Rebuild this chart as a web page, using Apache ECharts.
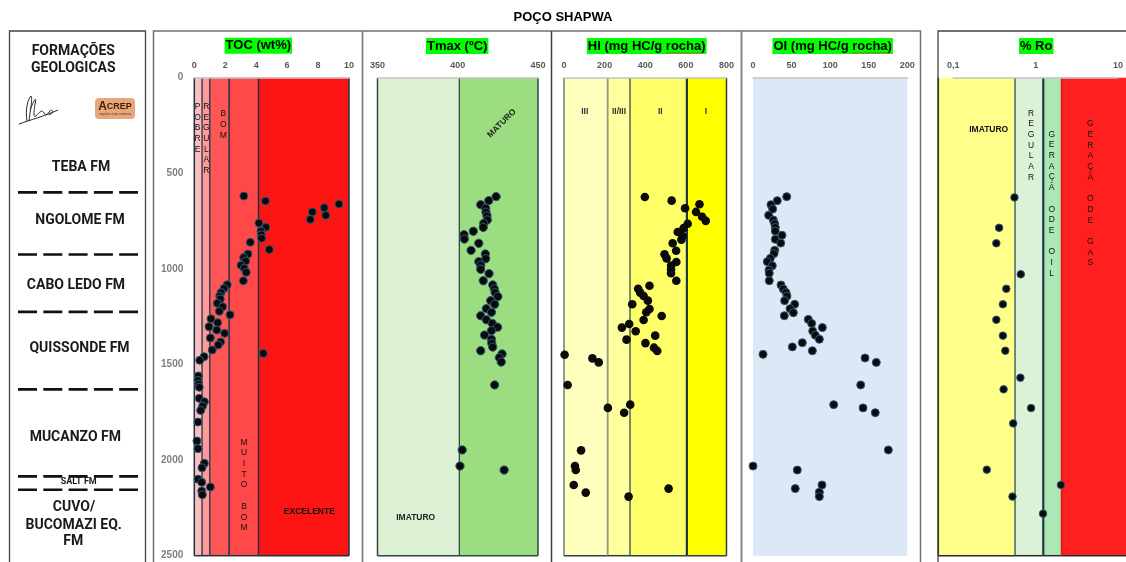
<!DOCTYPE html>
<html>
<head>
<meta charset="utf-8">
<title>POÇO SHAPWA</title>
<script src="https://cdn.jsdelivr.net/npm/echarts@6/dist/echarts.min.js"></script>
<style>
  html, body { margin: 0; padding: 0; background: #ffffff; }
  #chart { width: 1126px; height: 562px; }
</style>
</head>
<body>
<div id="chart"></div>
<script>
// ---------- data ----------
const depthTicks = [0, 500, 1000, 1500, 2000, 2500];

// TOC (wt%) vs depth (m)
const tocData = [
  [3.2,619],[4.6,645],[9.35,661],[8.4,680],[7.63,702],[8.5,720],[7.5,741],[4.18,760],[4.63,782],
  [4.31,803],[4.33,821],[4.35,840],[3.62,861],[4.85,899],[3.47,922],[3.19,941],[3.32,959],[3.02,981],
  [3.23,997],[3.36,1018],[3.17,1062],[2.13,1083],[1.92,1102],[1.73,1124],[1.64,1142],[1.68,1157],
  [1.49,1180],[1.83,1198],[1.62,1222],[2.31,1240],[1.08,1261],[1.51,1281],[0.95,1302],[1.45,1320],
  [1.96,1337],[1.04,1361],[1.7,1382],[1.55,1398],[1.16,1424],[4.46,1442],[0.63,1459],[0.35,1478],
  [0.26,1560],[0.24,1583],[0.28,1602],[0.32,1619],[0.32,1677],[0.65,1695],[0.54,1717],[0.41,1740],
  [0.24,1801],[0.17,1900],[0.24,1940],[0.65,2017],[0.5,2040],[0.24,2100],[0.48,2116],[1.04,2141],
  [0.48,2162],[0.52,2181]
];

// Tmax (ºC) vs depth (m)
const tmaxData = [
  [423.9,622],[419.3,643],[414.3,664],[417.4,683],[417.6,704],[418.2,723],[418.4,744],[416.2,762],
  [415.9,783],[409.7,803],[403.9,821],[404.1,844],[413.1,866],[408.3,903],[417.2,922],[417.4,947],
  [413.1,962],[414.3,981],[414.3,1002],[419.5,1025],[415.9,1062],[421.8,1084],[422.8,1105],[423.3,1124],
  [425,1145],[420.5,1166],[423,1185],[417.8,1208],[421,1227],[414.3,1245],[417.8,1266],[421.5,1285],
  [424.8,1305],[421,1323],[416.7,1346],[421,1368],[421.2,1389],[421.8,1409],[414.3,1428],[427.6,1445],
  [425.9,1464],[427.1,1487],[423,1607],[402.8,1947],[401.4,2031],[428.9,2052]
];

// HI (mg HC/g rocha) vs depth (m)
const hiData = [
  [398,624],[530,643],[667,662],[596,683],[650,702],[680,727],[698,749],[609,764],[589,786],[560,807],
  [584,828],[578,847],[535,866],[552,905],[495,924],[505,945],[553,964],[527,983],[527,1002],[527,1023],
  [553,1062],[421,1088],[365,1104],[375,1124],[392,1142],[413,1166],[336,1185],[421,1210],[405,1227],
  [481,1246],[392,1267],[321,1288],[285,1307],[353,1326],[449,1349],[308,1370],[401,1388],[443,1412],
  [459,1429],[3,1449],[140,1468],[171,1489],[18,1607],[326,1710],[216,1727],[296,1752],[84,1949],
  [54,2031],[58,2052],[48,2130],[515,2149],[107,2170],[318,2191]
];

// OI vs depth (m)
const oiData = [
  [43.7,622],[31.5,643],[23.3,664],[25.5,687],[20.3,720],[26.3,744],[28.1,764],[28.9,783],[28.9,802],
  [37.6,824],[28.9,845],[35.9,865],[28.1,903],[27.2,920],[22.4,945],[18.5,962],[25,983],[20.7,1006],
  [21.1,1023],[21.1,1062],[36.3,1084],[39.3,1105],[42.8,1124],[44.1,1142],[41,1166],[54,1185],[48,1208],
  [52.3,1229],[40.6,1245],[71.7,1264],[76,1285],[89.9,1307],[77.4,1325],[80.8,1347],[86,1368],[63.9,1386],
  [51,1408],[76.9,1428],[13,1447],[145.2,1466],[159.8,1489],[139.6,1607],[104.6,1710],[142.6,1727],
  [158.5,1752],[175.4,1947],[0,2031],[57.4,2052],[89.4,2130],[54.8,2149],[86,2168],[86,2191]
];

// % Ro vs depth (m)
const roData = [
  [0.553,626],[0.36,785],[0.333,866],[0.66,1028],[0.44,1104],[0.40,1185],[0.333,1266],[0.40,1349],
  [0.428,1428],[0.653,1569],[0.408,1630],[0.88,1728],[0.534,1808],[0.255,2050],[2.03,2130],[0.523,2191],
  [1.23,2280]
];

// classification limits for each track
const tocLimits  = [0, 0.5, 1, 2.25, 4.15, 10];
const tocClasses = ['POBRE', 'REGULAR', 'BOM', 'MUITO BOM', 'EXCELENTE'];
const tmaxLimits = [350, 401, 450];
const tmaxClasses = ['IMATURO', 'MATURO'];
const hiLimits = [0, 215, 325, 605, 800];
const hiTypes  = ['III', 'II/III', 'II', 'I'];
const oiLimits = [0, 200];
const roLimits = [0.066, 0.55, 1.2, 2.0, 11.8];
const roClasses = ['IMATURO', 'REGULAR', 'GERAÇÃ ODE OIL', 'GERAÇÃ ODE GAS'];

// formations and their tops (m)
const formations = ['TEBA FM', 'NGOLOME FM', 'CABO LEDO FM', 'QUISSONDE FM', 'MUCANZO FM', 'SALT FM', 'CUVO/', 'BUCOMAZI EQ.', 'FM'];
const formationTops = [600, 925, 1225, 1630, 2085, 2155];

// ---------- layout / style ----------
const W = 1126;
const TOP = 77.7, BOTTOM = 6.3;
const F = '"Liberation Sans", Arial, sans-serif';
const FR = 'Roboto, "Liberation Sans", sans-serif';

const grids = [
  { left: 194.3, right: W - 349,   top: TOP, bottom: BOTTOM },  // TOC
  { left: 377.5, right: W - 538,   top: TOP, bottom: BOTTOM },  // Tmax
  { left: 564,   right: W - 726.5, top: TOP, bottom: BOTTOM },  // HI
  { left: 753,   right: W - 907.3, top: TOP, bottom: BOTTOM },  // OI
  { left: 938.3, right: 0,         top: TOP, bottom: BOTTOM },  // Ro background classes
  { left: 953.3, right: W - 1120,  top: TOP, bottom: BOTTOM },  // Ro
  { left: 18,    right: W - 138,   top: TOP, bottom: BOTTOM }   // formation boundaries
];

const axisLabelStyle = { color: '#595959', fontSize: 9, fontWeight: 'bold', fontFamily: F, margin: 8 };
const topAxis = (gi, extra) => Object.assign({
  gridIndex: gi, position: 'top', type: 'value', z: 10,
  axisLine: { show: true, lineStyle: { color: '#C4C4C4', width: 1.5 } },
  axisTick: { show: false }, splitLine: { show: false },
  axisLabel: axisLabelStyle
}, extra);

const xAxes = [
  topAxis(0, { min: 0, max: 10, interval: 2 }),
  topAxis(1, { min: 350, max: 450, interval: 50 }),
  topAxis(2, { min: 0, max: 800, interval: 200 }),
  topAxis(3, { min: 0, max: 200, interval: 50 }),
  { gridIndex: 4, type: 'log', logBase: 10, min: roLimits[0], max: roLimits[roLimits.length - 1], show: false },
  topAxis(5, { type: 'log', logBase: 10, min: 0.1, max: 10,
    axisLabel: Object.assign({}, axisLabelStyle, { formatter: v => String(v).replace('.', ',') }) }),
  { gridIndex: 6, type: 'value', min: 0, max: 1, show: false }
];

const yAxes = grids.map((g, i) => ({
  gridIndex: i, type: 'value', inverse: true,
  min: depthTicks[0], max: depthTicks[depthTicks.length - 1], interval: 500,
  show: i === 0,
  axisLine: { show: false }, axisTick: { show: false }, splitLine: { show: false },
  axisLabel: { color: '#7F7F7F', fontSize: 10, fontWeight: 'bold', fontFamily: F, margin: 11,
    formatter: v => String(v) }
}));

// background class bands for a track
function bandSeries(axisIdx, limits, fills, lines, lineWidths, bottomColor) {
  const data = limits.slice(0, -1).map((v, i) => [v, limits[i + 1], i]);
  const yMin = depthTicks[0], yMax = depthTicks[depthTicks.length - 1];
  return {
    type: 'custom', xAxisIndex: axisIdx, yAxisIndex: axisIdx, z: 1, silent: true,
    data, encode: { x: [0, 1] },
    renderItem(params, api) {
      const a = api.value(0), b = api.value(1), k = api.value(2);
      const p1 = api.coord([a, yMin]), p2 = api.coord([b, yMax]);
      const children = [{
        type: 'rect',
        shape: { x: p1[0], y: p1[1], width: p2[0] - p1[0], height: p2[1] - p1[1] },
        style: { fill: fills[k] }
      }];
      const vline = (x, c, w) => ({ type: 'line', shape: { x1: x, y1: p1[1], x2: x, y2: p2[1] },
        style: { stroke: c, lineWidth: w } });
      if (lines) {
        if (lines[k]) children.push(vline(p1[0], lines[k], lineWidths[k]));
        if (k === data.length - 1 && lines[k + 1]) children.push(vline(p2[0], lines[k + 1], lineWidths[k + 1]));
      }
      if (bottomColor) {
        children.push({ type: 'line', shape: { x1: p1[0], y1: p2[1], x2: p2[0], y2: p2[1] },
          style: { stroke: bottomColor, lineWidth: 1.5 } });
      }
      return { type: 'group', children };
    }
  };
}

function dots(axisIdx, data, size, border) {
  return {
    type: 'scatter', xAxisIndex: axisIdx, yAxisIndex: axisIdx, z: 5, silent: true, clip: false,
    data, symbolSize: size,
    itemStyle: { color: '#0B0B0B', borderColor: border || '#2D5875', borderWidth: border === null ? 0 : 1, opacity: 1 }
  };
}

const series = [
  bandSeries(0, tocLimits, ['#FFBEBE', '#FF9A9A', '#FF5656', '#FF4848', '#FF1414'],
    ['#1E3246', '#1E3246', '#1E3246', '#1E3246', '#1E3246', '#1E3246'], [1.5, 1.3, 1.3, 1.5, 1.5, 1.5], '#1E3246'),
  bandSeries(1, tmaxLimits, ['#DCF1D4', '#9BDD80'],
    ['#2D4646', '#2D4B4B', '#2D4646'], [1.5, 1.3, 1.5], '#2D4646'),
  bandSeries(2, hiLimits, ['#FFFFBE', '#FFFF9E', '#FFFF6A', '#FFFF00'],
    ['#6E7F6E', '#8C9A80', '#3F5A5A', '#1E3A3A', '#2D4040'], [1.5, 1.8, 1.4, 2.2, 1.5], '#2D4040'),
  bandSeries(3, oiLimits, ['#DCE8F5'], null, null, null),
  bandSeries(4, roLimits, ['#FFFF8A', '#DCF2D7', '#ABE8B5', '#FF1F1F'],
    ['#2A2A2A', '#4A6464', '#1E3A46', '#E41A1A', null], [1.5, 1.5, 2.2, 2, 0], '#2A2A2A'),
  // dashed formation boundaries
  {
    type: 'custom', xAxisIndex: 6, yAxisIndex: 6, z: 2, silent: true,
    data: formationTops.map(d => [d]), encode: { y: 0 },
    renderItem(params, api) {
      const d = api.value(0);
      const a = api.coord([0, d]), b = api.coord([1, d]);
      return { type: 'line', shape: { x1: a[0], y1: a[1], x2: b[0], y2: b[1] },
        style: { stroke: '#111111', lineWidth: 2.6, lineDash: [19, 6.3] } };
    }
  },
  dots(0, tocData, 8),
  dots(1, tmaxData, 8.3),
  dots(2, hiData, 8.6, null),
  dots(3, oiData, 8),
  dots(5, roData, 7.5)
];

// ---------- annotations ----------
function txt(x, y, text, font, extra) {
  return {
    type: 'text', x, y, z: 100, silent: true,
    style: Object.assign({
      text, font, fill: '#111111',
      align: 'center', verticalAlign: 'middle', textAlign: 'center', textVerticalAlign: 'middle'
    }, extra || {})
  };
}
function vtxt(x, yTop, text, font) {
  return txt(x, yTop, text.split('').join('\n'), font || ('8.5px ' + F),
    { verticalAlign: 'top', textVerticalAlign: 'top', lineHeight: 10.7 });
}
function title(x, y, text) {
  return txt(x, y, text, 'bold 13px ' + F, { fill: '#000000', backgroundColor: '#00FF00', padding: [2, 1, 1, 1] });
}
function squiggle(x0, x1, y) {
  const pts = [];
  for (let x = x0, i = 0; x <= x1; x += 1.6, i++) pts.push([x, y + (i % 2 ? 1 : -0.6)]);
  return { type: 'polyline', z: 101, silent: true, shape: { points: pts }, style: { stroke: '#E03030', lineWidth: 0.8, fill: null } };
}
const boxLine = (x1, y1, x2, y2, c, w) => ({ type: 'line', z: 50, silent: true,
  shape: { x1, y1, x2, y2 }, style: { stroke: c, lineWidth: w } });

// signature strokes (cubic segments: start, control 1, control 2, end)
const signatureStrokes = [
  [27,121, 25,110, 28,98, 31,96],
  [31,96, 33,98, 30,112, 29,121],
  [30,110, 34,100, 37,95, 35,104],
  [35,104, 34,112, 33,118, 36,116],
  [36,116, 40,112, 42,109, 44,113],
  [44,113, 45,116, 48,114, 50,111],
  [50,111, 52,109, 55,112, 49,115],
  [19,124, 30,120, 45,116, 58,110]
];

const graphics = [
  // frames
  { type: 'rect', z: 50, silent: true, shape: { x: 9.5, y: 31, width: 136, height: 560 },
    style: { fill: null, stroke: '#404040', lineWidth: 1.3 } },
  { type: 'rect', z: 50, silent: true, shape: { x: 153.5, y: 31, width: 767, height: 560 },
    style: { fill: null, stroke: '#707070', lineWidth: 1.5 } },
  boxLine(362.5, 31, 362.5, 562, '#808080', 1.8),
  boxLine(551.5, 31, 551.5, 562, '#404040', 1.5),
  boxLine(741.5, 31, 741.5, 562, '#8A8A8A', 2),
  { type: 'rect', z: 50, silent: true, shape: { x: 938, y: 31, width: 200, height: 560 },
    style: { fill: null, stroke: '#404040', lineWidth: 1.3 } },

  // main title
  txt(563, 17, 'POÇO SHAPWA', 'bold 13px ' + F, { fill: '#000000' }),

  // track titles
  title(258.3, 45.8, 'TOC (wt%)'),
  title(457.2, 46, 'Tmax (ºC)'),
  title(646.7, 46, 'HI (mg HC/g rocha)'),
  title(832.7, 46, 'OI (mg HC/g rocha)'),
  title(1036.2, 46, '% Ro'),
  squiggle(666, 704, 52.6),
  squiggle(852, 891, 52.6),

  // formation column
  txt(73.3, 51, 'FORMAÇÕES', 'bold 14px ' + FR, { fill: '#1A1A1A' }),
  txt(73.3, 68.3, 'GEOLOGICAS', 'bold 14px ' + FR, { fill: '#1A1A1A' }),
  txt(81, 167.7, formations[0], 'bold 14px ' + FR, { fill: '#1A1A1A' }),
  txt(80, 220.3, formations[1], 'bold 14px ' + FR, { fill: '#1A1A1A' }),
  txt(76, 285, formations[2], 'bold 14px ' + FR, { fill: '#1A1A1A' }),
  txt(79.5, 348.3, formations[3], 'bold 14px ' + FR, { fill: '#1A1A1A' }),
  txt(75.3, 437.7, formations[4], 'bold 14px ' + FR, { fill: '#1A1A1A' }),
  txt(78.7, 482.2, formations[5], 'bold 9px ' + FR, { fill: '#1A1A1A' }),
  txt(74, 507.7, formations[6], 'bold 14px ' + FR, { fill: '#1A1A1A' }),
  txt(73.7, 525, formations[7], 'bold 14px ' + FR, { fill: '#1A1A1A' }),
  txt(73.3, 541.5, formations[8], 'bold 14px ' + FR, { fill: '#1A1A1A' }),

  // signature
  ...signatureStrokes.map(s => ({
    type: 'bezierCurve', z: 60, silent: true,
    shape: { x1: s[0], y1: s[1], cpx1: s[2], cpy1: s[3], cpx2: s[4], cpy2: s[5], x2: s[6], y2: s[7] },
    style: { fill: null, stroke: '#2A2A2A', lineWidth: 1 }
  })),
  // ACREP badge
  { type: 'rect', z: 60, silent: true, shape: { x: 95, y: 98, width: 40, height: 21, r: 4 },
    style: { fill: '#E8A67A' } },
  { type: 'text', x: 115, y: 106.5, z: 61, silent: true,
    style: { text: '{a|A}{b|CREP}', align: 'center', verticalAlign: 'middle', textAlign: 'center', textVerticalAlign: 'middle',
      rich: { a: { font: 'bold 12px ' + F, fill: '#3A1E0E' }, b: { font: 'bold 9px ' + F, fill: '#3A1E0E' } } } },
  { type: 'text', x: 115, y: 114.5, z: 61, silent: true,
    style: { text: 'angolan crepe company', font: '3px ' + F, fill: '#5A3A20', align: 'center', verticalAlign: 'middle',
      textAlign: 'center', textVerticalAlign: 'middle' } },

  // TOC classes
  vtxt(197.6, 101.2, tocClasses[0]),
  vtxt(206.4, 101.2, tocClasses[1]),
  vtxt(223.3, 108.8, tocClasses[2]),
  vtxt(244, 437, tocClasses[3]),
  txt(309.3, 511.7, tocClasses[4], 'bold 8.5px ' + F),

  // Tmax classes
  txt(415.7, 517.3, tmaxClasses[0], 'bold 8.5px ' + F, { fill: '#222222' }),
  Object.assign(txt(501.7, 123.3, tmaxClasses[1], 'bold 8.5px ' + F, { fill: '#222222' }), { rotation: Math.PI / 4 }),

  // HI kerogen types
  txt(584.7, 111.7, hiTypes[0], 'bold 8.5px ' + F, { fill: '#333333' }),
  txt(619, 111.3, hiTypes[1], 'bold 8.5px ' + F, { fill: '#333333' }),
  txt(660.3, 111.7, hiTypes[2], 'bold 8.5px ' + F, { fill: '#333333' }),
  txt(706, 111.7, hiTypes[3], 'bold 8.5px ' + F, { fill: '#333333' }),

  // Ro classes
  txt(988.7, 129.3, roClasses[0], 'bold 8.5px ' + F),
  vtxt(1031, 108, roClasses[1]),
  vtxt(1051.7, 129, roClasses[2]),
  vtxt(1090.3, 118.7, roClasses[3])
];

const chart = echarts.init(document.getElementById('chart'), null, { renderer: 'canvas' });
chart.setOption({
  backgroundColor: '#ffffff',
  animation: false,
  grid: grids,
  xAxis: xAxes,
  yAxis: yAxes,
  series,
  graphic: { elements: graphics }
});
</script>
</body>
</html>
